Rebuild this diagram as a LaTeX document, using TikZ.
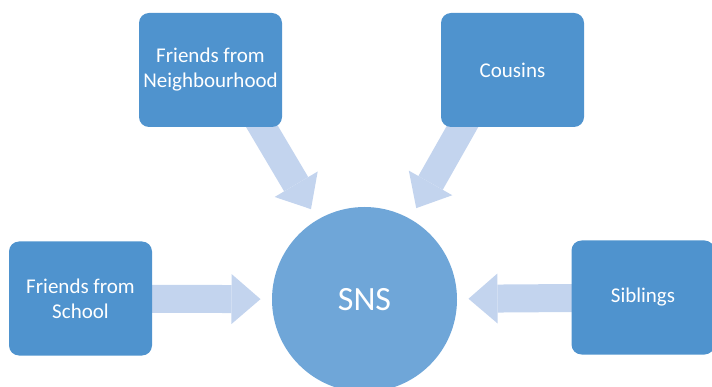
\documentclass[tikz,border=0pt]{standalone}
\usepackage{fontspec}
\setmainfont{Carlito}
\usetikzlibrary{arrows.meta, positioning, backgrounds, calc}
\definecolor{boxblue}{RGB}{79,147,206}
\definecolor{hubblue}{RGB}{111,166,216}
\definecolor{arrowblue}{RGB}{195,212,238}

\begin{document}
\begin{tikzpicture}[x=1pt, y=-1pt,
    group/.style={rectangle, rounded corners=10pt, fill=boxblue, text=white, minimum width=143pt, minimum height=114pt, align=center, font=\fontsize{21}{25}\selectfont},
    hub/.style={circle, fill=hubblue, text=white, minimum size=185pt, font=\fontsize{34}{40}\selectfont},
    feed/.style={arrowblue, line width=28pt, shorten >=105pt, -{Triangle[length=29pt, width=50pt, line width=0pt]}}
    ]
    \useasboundingbox (0,0) rectangle (712,387);

    % Centre
    \node[hub] (sns) at (364.5,299.5) {SNS};

    % Groups of friends
    \node[group] (neighbours) at (210.5,70) {Friends from\\Neighbourhood};
    \node[group] (cousins) at (512.5,70) {Cousins};
    \node[group] (school) at (80.5,298.5) {Friends from\\School};
    \node[group] (siblings) at (643,297.5) {Siblings};

    % Arrows into SNS
    \begin{scope}[on background layer]
        \draw[feed] ($(neighbours.center)+(18,0)$) -- (sns.center);
        \draw[feed] ($(cousins.center)+(-18,0)$) -- (sns.center);
        \draw[feed, shorten >=104pt] (school.center) -- (sns.center);
        \draw[feed, shorten >=104pt] (siblings.center) -- (sns.center);
    \end{scope}
\end{tikzpicture}
\end{document}
